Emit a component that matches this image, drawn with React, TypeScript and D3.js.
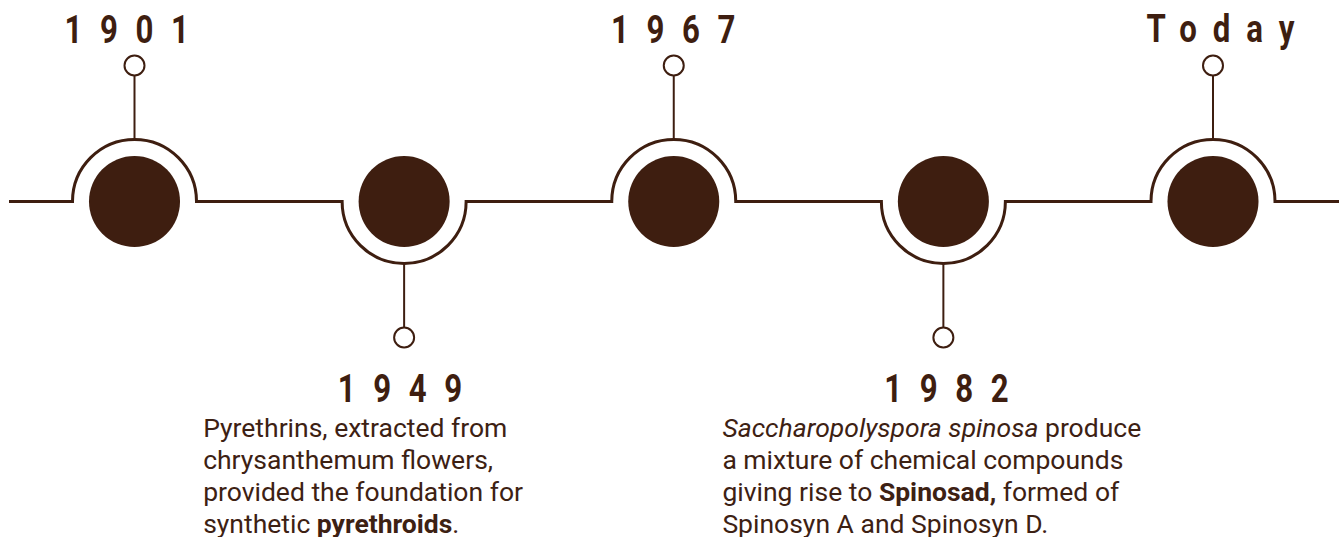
import React from "react";
import * as d3 from "d3";

// ---- data ----
const years: string[] = ["1901", "1949", "1967", "1982", "Today"];
const sides: string[] = ["top", "bottom", "top", "bottom", "top"];

type Seg = { t: string; b?: boolean; i?: boolean };
const note1949: Seg[][] = [
  [{ t: "Pyrethrins, extracted from" }],
  [{ t: "chrysanthemum flowers," }],
  [{ t: "provided the foundation for" }],
  [{ t: "synthetic " }, { t: "pyrethroids", b: true }, { t: "." }],
];
const note1982: Seg[][] = [
  [{ t: "Saccharopolyspora spinosa", i: true }, { t: " produce" }],
  [{ t: "a mixture of chemical compounds" }],
  [{ t: "giving rise to " }, { t: "Spinosad,", b: true }, { t: " formed of" }],
  [{ t: "Spinosyn A and Spinosyn D." }],
];
const notes: (Seg[][] | null)[] = [null, note1949, null, note1982, null];

// ---- layout ----
const W = 1339;
const H = 537;
const COLOR = "#3e1e10";
const TEXT = "#3d2113";
const lineY = 201.5;
const arcR = 62;
const dotR = 45.5;
const knobR = 10;
const knobDist = 136;
const noteLeft = [0, -201, 0, -221, 0];

export default function App() {
  const x = d3.scalePoint<string>().domain(years).range([134.5, 1213]).padding(0);
  const lx = d3.scalePoint<string>().domain(years).range([135.5, 1228.5]).padding(0);

  const p = d3.path();
  p.moveTo(9, lineY);
  years.forEach((y, i) => {
    const cx = x(y)!;
    p.lineTo(cx - arcR, lineY);
    if (sides[i] === "top") p.arc(cx, lineY, arcR, Math.PI, 2 * Math.PI, false);
    else p.arc(cx, lineY, arcR, Math.PI, 0, true);
  });
  p.lineTo(W, lineY);

  return (
    <svg
      width={W}
      height={H}
      style={{ position: "absolute", left: 0, top: 0, background: "#fff" }}
    >
      <path d={p.toString()} fill="none" stroke={COLOR} strokeWidth={3} />
      {years.map((y, i) => {
        const cx = x(y)!;
        const dir = sides[i] === "top" ? -1 : 1;
        const knobY = lineY + dir * knobDist;
        const labelY = sides[i] === "top" ? (y === "Today" ? 42 : 43) : 402;
        const note = notes[i];
        return (
          <g key={y}>
            <circle cx={cx} cy={lineY} r={dotR} fill={COLOR} />
            <line
              x1={cx}
              x2={cx}
              y1={lineY + dir * arcR}
              y2={knobY - dir * knobR}
              stroke={COLOR}
              strokeWidth={2}
            />
            <circle cx={cx} cy={knobY} r={knobR} fill="#fff" stroke={COLOR} strokeWidth={2} />
            <text
              transform={`translate(${lx(y)!},${labelY}) scale(0.8,1)`}
              textAnchor="middle"
              fontFamily="Roboto, sans-serif"
              fontWeight={700}
              fontSize={39}
              letterSpacing={y === "Today" ? 20 : 22}
              fill={COLOR}
            >
              {y}
            </text>
            {note && (
              <text
                fontFamily="Roboto, sans-serif"
                fontSize={26.5}
                fill={TEXT}
              >
                {note.map((line, li) => (
                  <tspan key={li} x={cx + noteLeft[i]} y={437 + li * 32}>
                    {line.map((s, si) => (
                      <tspan
                        key={si}
                        fontWeight={s.b ? 700 : 400}
                        fontStyle={s.i ? "italic" : "normal"}
                      >
                        {s.t}
                      </tspan>
                    ))}
                  </tspan>
                ))}
              </text>
            )}
          </g>
        );
      })}
    </svg>
  );
}
